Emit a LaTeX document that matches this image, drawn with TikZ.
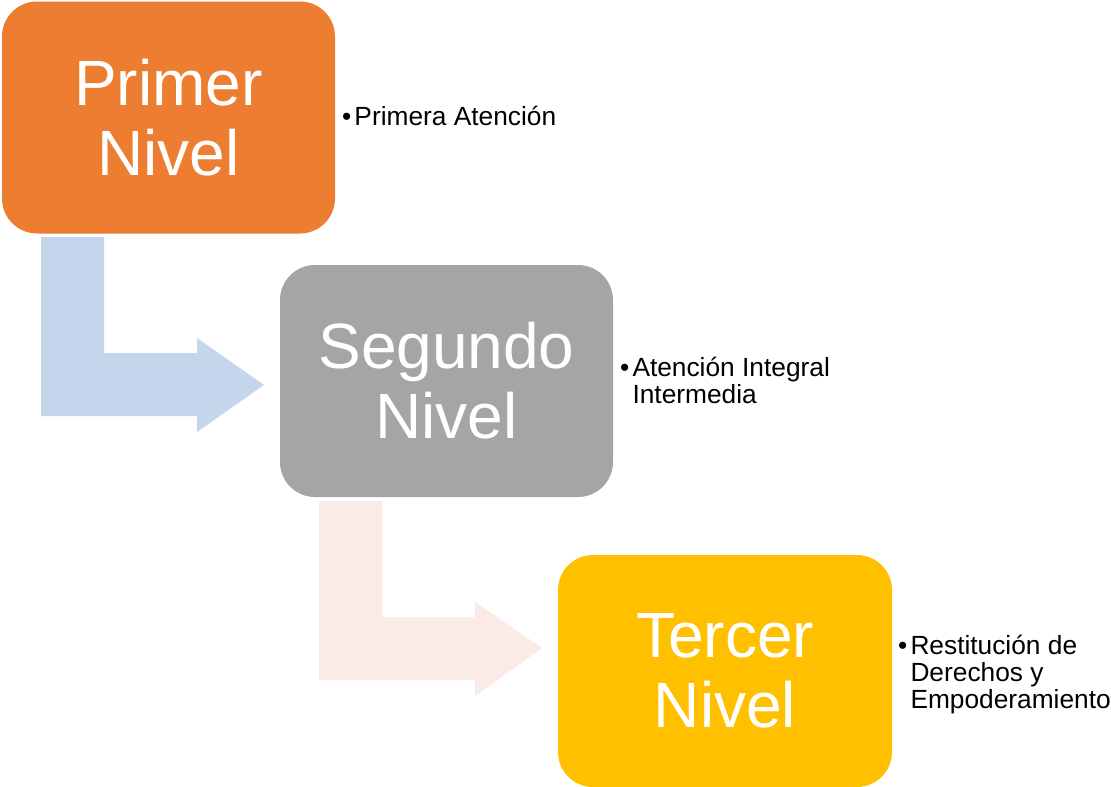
\documentclass[tikz,border=0pt]{standalone}
\usepackage{fontspec}
\setmainfont{Liberation Sans}
\definecolor{cOrange}{HTML}{ED7D31}
\definecolor{cGray}{HTML}{A5A5A5}
\definecolor{cYellow}{HTML}{FFC000}
\definecolor{cBlue}{HTML}{C5D5EB}
\definecolor{cPink}{HTML}{FBEBE6}
\tikzset{
  levelbox/.style={rounded corners=35pt, minimum width=333pt, minimum height=232pt,
    inner sep=0pt, outer sep=0pt, text=white, align=center,
    font=\fontsize{64}{70}\selectfont},
  sidetext/.style={anchor=base west, inner sep=0pt, outer sep=0pt, text=black,
    font=\fontsize{26.3}{27}\selectfont},
  bentarrow/.style={draw=none}
}
\newcommand{\bulletitem}[1]{\makebox[12.5pt][l]{•}\parbox[t]{240pt}{\raggedright #1}}
\begin{document}
\begin{tikzpicture}[x=1pt,y=-1pt]
\useasboundingbox (0,0) rectangle (1111,787);
\fill[white] (0,0) rectangle (1111,787);
% bent arrows
\fill[cBlue, bentarrow] (41,237) -- (104,237) -- (104,353) -- (197,353) -- (197,338)
  -- (264,385) -- (197,432) -- (197,416) -- (41,416) -- cycle;
\fill[cPink, bentarrow] (319,501) -- (382,501) -- (382,617) -- (475,617) -- (475,602)
  -- (542,648) -- (475,696) -- (475,680) -- (319,680) -- cycle;
% level boxes
\node[levelbox, fill=cOrange] (n1) at (168.5,117.5) {Primer\\Nivel};
\node[levelbox, fill=cGray] (n2) at (446.5,381) {Segundo\\Nivel};
\node[levelbox, fill=cYellow, minimum width=334pt] (n3) at (725,671) {Tercer\\Nivel};
% side texts
\node[sidetext] (t1) at (342,125) {\bulletitem{Primera Atención}};
\node[sidetext] (t2) at (620,376) {\bulletitem{Atención Integral\\Intermedia}};
\node[sidetext] (t3) at (898,654) {\bulletitem{Restitución de\\Derechos y\\Empoderamiento}};
\end{tikzpicture}
\end{document}
